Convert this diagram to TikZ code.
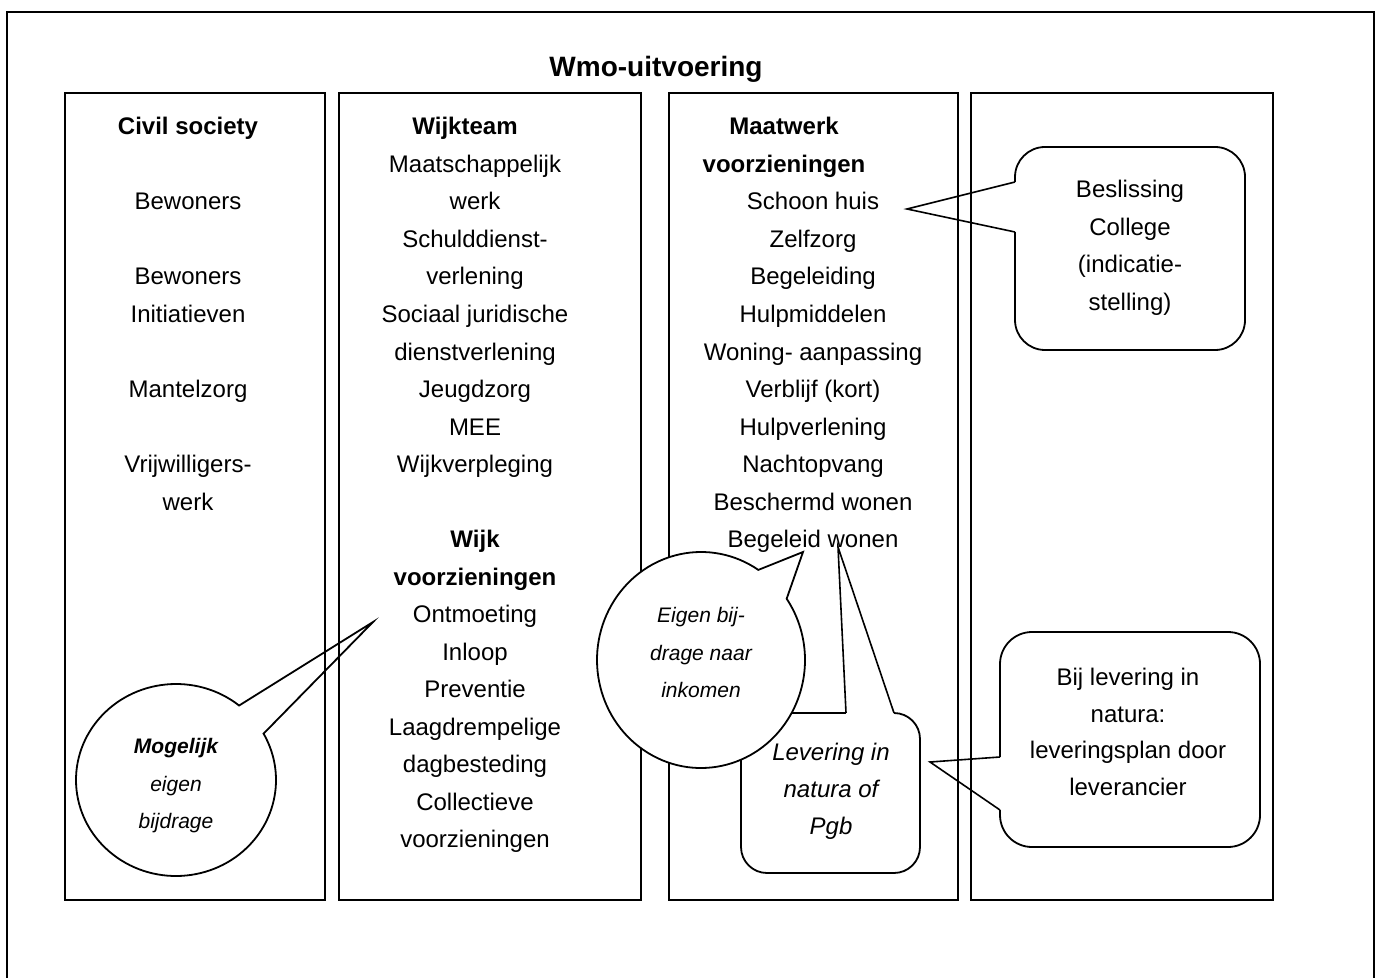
\documentclass[tikz,border=0pt]{standalone}
\usepackage{fontspec}
\setmainfont{Liberation Sans}
\usetikzlibrary{calc,shapes.callouts}

\tikzset{
	txt/.style={anchor=base, inner sep=0pt, font=\fontsize{12}{14}\selectfont},
	head/.style={txt, font=\fontsize{12}{14}\selectfont\bfseries},
	bubtxt/.style={anchor=base, inner sep=0pt, font=\fontsize{10.5}{13}\selectfont\itshape},
	bubble/.style={ellipse callout, draw, line width=0.9pt, inner sep=0pt, outer sep=0pt},
	callbox/.style={draw, line width=0.9pt, rounded corners=#1, inner sep=0pt, outer sep=0pt}
}

\begin{document}
\begin{tikzpicture}[x=0.5pt, y=-0.5pt, line width=0.8pt]
	\useasboundingbox (0,0) rectangle (1379,978);

	% frame
	\draw[line width=1pt] (7,978) -- (7,12) -- (1374,12) -- (1374,978);
	\node[txt, font=\fontsize{14}{16}\selectfont\bfseries] (title) at (656,77) {Wmo-uitvoering};

	% columns
	\draw (65,93) rectangle (325,900);
	\draw (339,93) rectangle (641,900);
	\draw (669,93) rectangle (958,900);
	\draw (971,93) rectangle (1273,900);

	% civil society
	\node[head] (civil) at (188,135) {Civil society};
	\foreach \y/\t [count=\i] in {210/Bewoners, 285/Bewoners, 322.5/Initiatieven,
		397.5/Mantelzorg, 472.5/Vrijwilligers-, 510/werk}
		\node[txt] (civ\i) at (188,\y) {\t};

	% wijkteam
	\node[head] (wijkteam) at (465,135) {Wijkteam};
	\foreach \y/\t [count=\i] in {172.5/Maatschappelijk, 210/werk, 247.5/Schulddienst-,
		285/verlening, 322.5/Sociaal juridische, 360/dienstverlening, 397.5/Jeugdzorg,
		435/MEE, 472.5/Wijkverpleging}
		\node[txt] (wt\i) at (475,\y) {\t};

	% wijk voorzieningen
	\node[head] (wijk) at (475,547.5) {Wijk};
	\node[head] (wijkvz) at (475,585) {voorzieningen};
	\foreach \y/\t [count=\i] in {622.5/Ontmoeting, 660/Inloop, 697.5/Preventie,
		735/Laagdrempelige, 772.5/dagbesteding, 810/Collectieve, 847.5/voorzieningen}
		\node[txt] (wv\i) at (475,\y) {\t};

	% maatwerk
	\node[head] (maatwerk) at (784,135) {Maatwerk};
	\node[head] (maatvz) at (784,172.5) {voorzieningen};
	\foreach \y/\t [count=\i] in {210/Schoon huis, 247.5/Zelfzorg, 285/Begeleiding,
		322.5/Hulpmiddelen, 360/Woning- aanpassing, 397.5/Verblijf (kort),
		435/Hulpverlening, 472.5/Nachtopvang, 510/Beschermd wonen, 547.5/Begeleid wonen}
		\node[txt] (mw\i) at (813,\y) {\t};

	% tips of the callouts
	\coordinate (mogTip) at (373,622);
	\coordinate (besTip) at (907,209);
	\coordinate (levTip) at (838,547);
	\coordinate (bijTip) at (930,762);
	\coordinate (inkTip) at (803,552);

	% Mogelijk eigen bijdrage
	\node[bubble, callout absolute pointer={(mogTip)}, callout pointer arc=22,
		minimum width=100pt, minimum height=96pt] (mog) at (176,780) {};
	\node[bubtxt, font=\fontsize{10.5}{13}\selectfont\bfseries\itshape] (mog1) at (176,753) {Mogelijk};
	\node[bubtxt] (mog2) at (176,791) {eigen};
	\node[bubtxt] (mog3) at (176,828) {bijdrage};

	% Beslissing College
	\node[callbox=15pt, minimum width=115pt, minimum height=101.5pt] (bes) at (1130,248.5) {};
	\fill[white] ($(bes.north west)+(-2,35)$) rectangle ($(bes.north west)+(2,85)$);
	\draw ($(bes.north west)+(0,35)$) -- (besTip) -- ($(bes.north west)+(0,85)$);
	\foreach \y/\t [count=\i] in {198/Beslissing, 235.5/College, 273/(indicatie-, 310.5/stelling)}
		\node[txt] (bes\i) at (1130,\y) {\t};

	% Bij levering in natura
	\node[callbox=16pt, minimum width=130pt, minimum height=107.5pt] (bij) at (1130,739.5) {};
	\fill[white] ($(bij.north west)+(-2,125)$) rectangle ($(bij.north west)+(2,178)$);
	\draw ($(bij.north west)+(0,125)$) -- (bijTip) -- ($(bij.north west)+(0,178)$);
	\foreach \y/\t [count=\i] in {685/Bij levering in, 722/natura:, 758.5/leveringsplan door, 795/leverancier}
		\node[txt] (bij\i) at (1128,\y) {\t};

	% Levering in natura of Pgb
	\node[callbox=13pt, fill=white, minimum width=89.5pt, minimum height=80pt] (lev) at (830.5,793) {};
	\fill[white] ($(lev.north west)+(105,-2)$) rectangle ($(lev.north west)+(153,2)$);
	\draw ($(lev.north west)+(105,0)$) -- (levTip) -- ($(lev.north west)+(153,0)$);
	\foreach \y/\t [count=\i] in {760/Levering in, 797.5/natura of, 834.5/Pgb}
		\node[txt, font=\fontsize{12}{14}\selectfont\itshape] (lev\i) at (831,\y) {\t};

	% Eigen bijdrage naar inkomen
	\node[bubble, fill=white, callout absolute pointer={(inkTip)}, callout pointer arc=22,
		minimum width=104pt, minimum height=108pt] (ink) at (701,660) {};
	\foreach \y/\t [count=\i] in {622.5/Eigen bij-, 660/drage naar, 697/inkomen}
		\node[bubtxt] (ink\i) at (701,\y) {\t};

\end{tikzpicture}
\end{document}
